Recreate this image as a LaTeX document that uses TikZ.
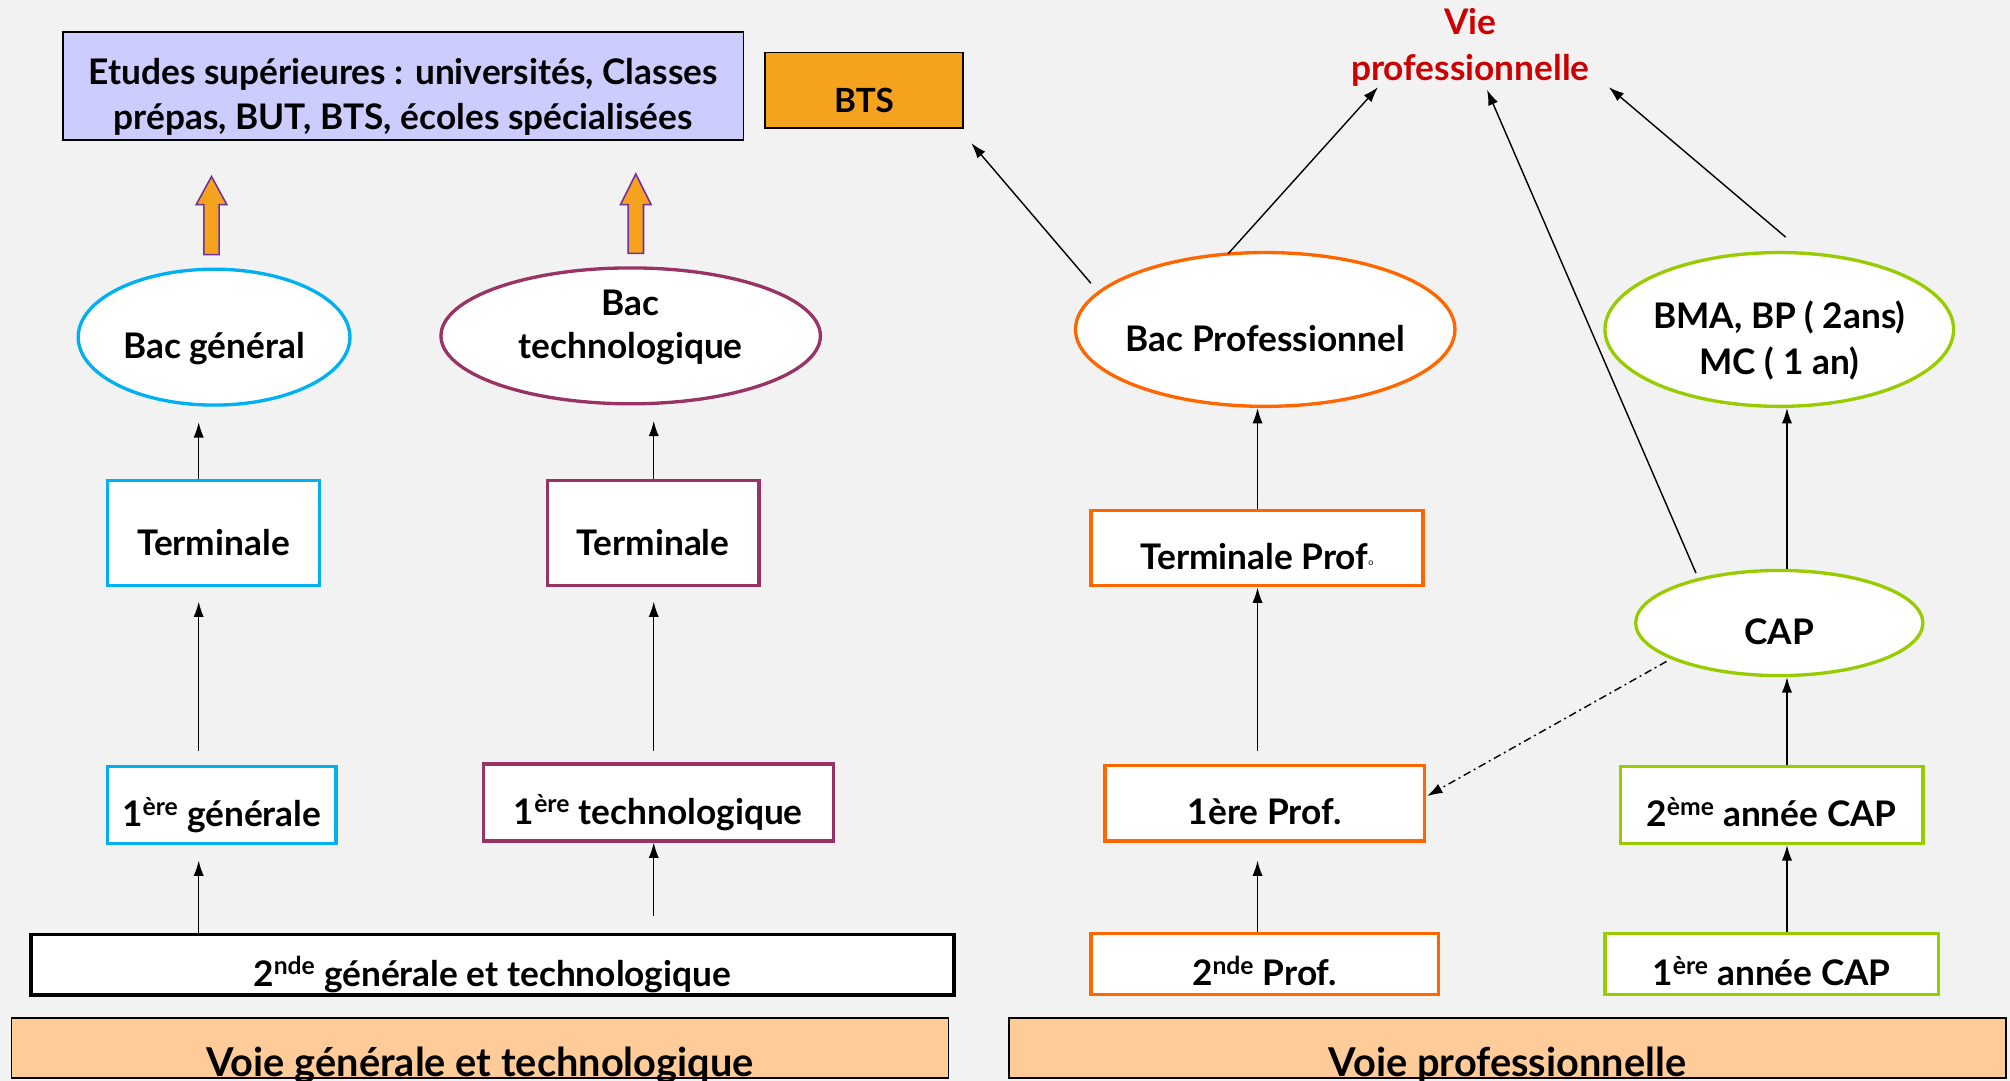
\documentclass[tikz,border=0pt]{standalone}
\usepackage{fontspec}
\setmainfont{Lato}
\usetikzlibrary{arrows.meta,calc,shapes.geometric}
\definecolor{bgc}{HTML}{F2F2F2}
\definecolor{etuc}{HTML}{CCCCFF}
\definecolor{btsc}{HTML}{F5A31F}
\definecolor{cyanc}{HTML}{00B0F0}
\definecolor{maroonc}{HTML}{993366}
\definecolor{orangec}{HTML}{FF6600}
\definecolor{greenc}{HTML}{99CC00}
\definecolor{peachc}{HTML}{FFCC99}
\definecolor{redc}{HTML}{CC0000}
\definecolor{purpc}{HTML}{7030A0}
\begin{document}
\begin{tikzpicture}[x=1pt,y=-1pt,
  lbl/.style={font=\bfseries\fontsize{27.5}{33}\selectfont, text height=34pt, text depth=0pt, inner sep=0pt},
  boxn/.style={lbl, rectangle, draw, line width=2.6pt, fill=white},
  elln/.style={lbl, ellipse, draw, line width=2.6pt, fill=white},
  txt/.style={font=\bfseries\fontsize{27.5}{33}\selectfont, inner sep=0pt, anchor=base},
  band/.style={rectangle, draw=black, line width=1.2pt, fill=peachc, inner sep=0pt,
    font=\bfseries\fontsize{31}{37}\selectfont, text height=44pt, text depth=0pt},
  arr/.style={-{Latex[length=12pt,width=8pt]}, line width=1.1pt},
  blockarr/.style={fill=btsc, draw=purpc, line width=1.2pt},
]
\fill[bgc] (0,0) rectangle (1568,843);
\clip (0,0) rectangle (1568,843);

% top row
\node[rectangle, draw=black, line width=1.4pt, fill=etuc, minimum width=531pt, minimum height=84pt, inner sep=0pt] (etu) at (314.5,67) {};
\node[txt] (etuA) at ($(etu.center)+(0,-1)$) {Etudes supérieures : universités, Classes};
\node[txt] (etuB) at ($(etu.center)+(0,34)$) {prépas, BUT, BTS, écoles spécialisées};
\node[lbl, font=\bfseries\fontsize{26}{31}\selectfont, rectangle, draw=black, line width=1.4pt, fill=btsc, minimum width=154pt, minimum height=59pt] (bts) at (674,70.5) {BTS};
\node[txt, text=redc] (vieA) at (1147,27) {Vie};
\node[txt, text=redc] (vieB) at (1147,63) {professionnelle};

% ellipses
\node[elln, draw=cyanc, minimum width=212pt, minimum height=106pt] (bg) at (167,263) {\makebox[0pt]{Bac général}};
\node[elln, draw=maroonc, minimum width=296pt, minimum height=106pt] (bt) at (492,262) {};
\node[txt] (btA) at ($(bt.center)+(0,-16)$) {Bac};
\node[txt] (btB) at ($(bt.center)+(0,18)$) {technologique};
\node[elln, draw=orangec, minimum width=296pt, minimum height=120pt] (bp) at (987,257) {\makebox[0pt]{Bac Professionnel}};
\node[elln, draw=greenc, minimum width=272pt, minimum height=120pt] (bma) at (1388,257) {};
\node[txt] (bmaA) at ($(bma.center)+(0,-1)$) {BMA, BP ( 2ans)};
\node[txt] (bmaB) at ($(bma.center)+(0,35)$) {MC ( 1 an)};
\node[elln, draw=greenc, minimum width=224pt, minimum height=82pt] (cap) at (1388,486) {\makebox[0pt]{CAP}};

% boxes
\node[boxn, draw=cyanc, minimum width=165pt, minimum height=82pt] (tg) at (166.5,416) {Terminale};
\node[boxn, draw=maroonc, minimum width=165pt, minimum height=82pt] (tt) at (509.5,416) {Terminale};
\node[boxn, draw=orangec, minimum width=259pt, minimum height=59pt] (tp) at (980.5,427.5) {Terminale Prof\raisebox{3pt}{\fontsize{7}{7}\mdseries\selectfont o}};
\node[boxn, draw=cyanc, minimum width=178pt, minimum height=60pt] (pg) at (173,628) {1\textsuperscript{ère} générale};
\node[boxn, draw=maroonc, minimum width=273pt, minimum height=60pt] (pt) at (513.5,626) {1\textsuperscript{ère} technologique};
\node[boxn, draw=orangec, minimum width=249pt, minimum height=59pt] (pp) at (986.5,626.5) {1ère Prof.};
\node[boxn, draw=greenc, minimum width=236pt, minimum height=60pt] (c2) at (1382,628) {2\textsuperscript{ème} année CAP};
\node[boxn, draw=black, line width=3pt, minimum width=720pt, minimum height=47pt] (sg) at (384,752.5) {2\textsuperscript{nde} générale et technologique};
\node[boxn, draw=orangec, minimum width=271pt, minimum height=48pt] (sp) at (986.5,752) {2\textsuperscript{nde} Prof.};
\node[boxn, draw=greenc, minimum width=260pt, minimum height=48pt] (c1) at (1382,752) {1\textsuperscript{ère} année CAP};

% bands
\node[band, minimum width=731pt, minimum height=47pt] (vg) at (374.5,817.5) {Voie générale et technologique};
\node[band, minimum width=778pt, minimum height=47pt] (vp) at (1176,817.5) {Voie professionnelle};

% block arrows
\draw[blockarr] ($(bg.north)+(-8,-10)$) -- ++(0,-39) -- ++(-6,0) -- ++(12,-22) -- ++(12,22) -- ++(-6,0) -- ++(0,39) -- cycle;
\draw[blockarr] ($(bt.north)+(-2,-10)$) -- ++(0,-38) -- ++(-6,0) -- ++(12,-24) -- ++(12,24) -- ++(-6,0) -- ++(0,38) -- cycle;

% vertical connectors
\draw[arr, shorten >=12pt] ([xshift=-11.5pt]tg.north) -- ([xshift=-11.5pt]tg.north |- bg.south);
\draw[arr, shorten <=11pt, shorten >=11pt] ([xshift=-18pt]pg.north) -- ([xshift=-18pt]pg.north |- tg.south);
\draw[arr, shorten >=12pt] (sg.north -| pg.north) ++(-18,0) coordinate (s1) -- (s1 |- pg.south);
\draw[arr, shorten >=12pt] ([xshift=0.5pt]tt.north) -- ([xshift=0.5pt]tt.north |- bt.south);
\draw[arr, shorten <=9pt, shorten >=11pt] ([xshift=-3.5pt]pt.north) -- ([xshift=-3.5pt]pt.north |- tt.south);
\draw[arr, shorten <=13pt] ([xshift=-3.5pt]pt.south |- sg.north) -- ([xshift=-3.5pt]pt.south);
\draw[arr] ([xshift=0.5pt]tp.north) -- ([xshift=0.5pt]tp.north |- bp.south);
\draw[arr, shorten <=10pt] ([xshift=-5.5pt]pp.north) -- ([xshift=-5.5pt]pp.north |- tp.south);
\draw[arr, shorten >=14pt] ([xshift=-5.5pt]sp.north) -- ([xshift=-5.5pt]sp.north |- pp.south);
\draw[arr] ([xshift=12pt]c2.north) -- ([xshift=12pt]c2.north |- cap.south);
\draw[arr] ([xshift=12pt]c1.north) -- ([xshift=12pt]c1.north |- c2.south);
\draw[arr] ([xshift=6pt]cap.north) -- ([xshift=6pt]cap.north |- bma.south);

% diagonal connectors
\coordinate (btsEnd) at ($(bts.south east)+(6,11)$);
\coordinate (vie1) at ($(vieB.base)+(-72,5)$);
\coordinate (vie2) at ($(vieB.base)+(13,7)$);
\coordinate (vie3) at ($(vieB.base)+(108,5)$);
\draw[arr] ($(bp.center)+(-136,-36)$) -- (btsEnd);
\draw[arr] ($(bp.center)+(-29,-59)$) -- (vie1);
\draw[arr] ($(cap.center)+(-65,-39)$) -- (vie2);
\draw[arr] ($(bma.center)+(5,-72)$) -- (vie3);
\draw[arr, dash pattern=on 6pt off 3pt on 1.5pt off 3pt] ($(cap.center)+(-88,30)$) -- ($(pp.east)+(1,-5.5)$);
\end{tikzpicture}
\end{document}
